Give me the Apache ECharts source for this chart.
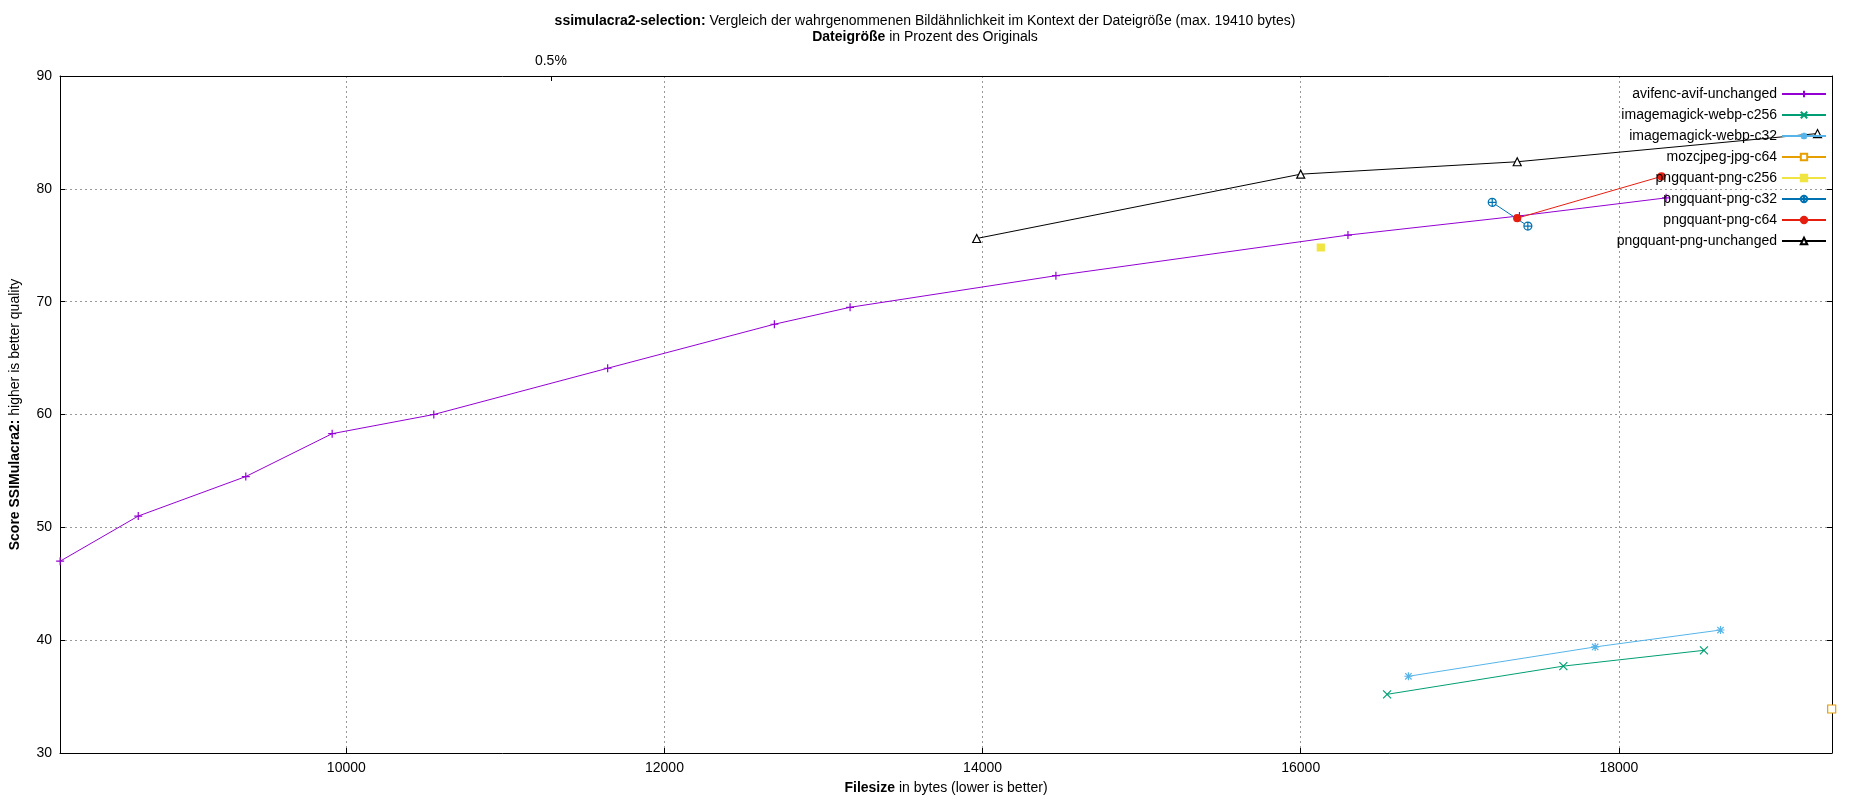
<!DOCTYPE html>
<html><head><meta charset="utf-8">
<script src="https://cdn.jsdelivr.net/npm/echarts@6/dist/echarts.min.js"></script>
<style>html,body{margin:0;background:#fff}#c{width:1850px;height:800px}</style>
</head><body><div id="c"></div>
<script>
const seriesNames = ['avifenc-avif-unchanged','imagemagick-webp-c256','imagemagick-webp-c32','mozcjpeg-jpg-c64','pngquant-png-c256','pngquant-png-c32','pngquant-png-c64','pngquant-png-unchanged'];
const avifenc = [[8201,47.0],[8692,51.0],[9368,54.5],[9911,58.3],[10550,60.0],[11643,64.1],[12691,68.0],[13167,69.5],[14461,72.3],[16297,75.9],[17375,77.6],[18297,79.2]];
const webp256 = [[16543,35.2],[17651,37.7],[18535,39.1]];
const webp32 = [[16677,36.8],[17851,39.4],[18639,40.9]];
const mozjpeg64 = [[19338,33.9]];
const png256 = [[16126,74.8]];
const png32 = [[17204,78.8],[17428,76.7]];
const png64 = [[17361,77.4],[18268,81.1]];
const pngUnchanged = [[13963,75.6],[16000,81.3],[17361,82.4],[19249,84.9]];
const xTicks = [10000,12000,14000,16000,18000];
const yTicks = [30,40,50,60,70,80,90];
const topTickBytes = [11286];
const topTickLabels = ['0.5%'];

const colors = ['#9400d3','#009e73','#56b4e9','#e69f00','#f0e442','#0072b2','#e51e10','#000000'];
const datas = [avifenc,webp256,webp32,mozjpeg64,png256,png32,png64,pngUnchanged];
const symbols = [
 'path://M5,0L5,10M0,5L10,5',
 'path://M0,0L10,10M10,0L0,10',
 'path://M5,0L5,10M0,5L10,5M1,1L9,9M9,1L1,9',
 'path://M0,0L10,0L10,10L0,10Z',
 'rect',
 'path://M5,0A5,5 0 1 1 4.99,0ZM5,0L5,10M0,5L10,5',
 'circle',
 'path://M5,0L10,10L0,10Z'
];
const filled = [false,false,false,false,true,false,true,false];
const font = 'Liberation Sans, Arial, sans-serif';
const series = seriesNames.map((n,i)=>({
  name:n, type:'line', data:datas[i], symbol:symbols[i], symbolSize:filled[i]?7:8,
  showAllSymbol:true, animation:false,
  lineStyle:{color:colors[i],width:1},
  itemStyle:{color:filled[i]?colors[i]:'#fff',borderColor:colors[i],borderWidth:1.2},
  emphasis:{disabled:true}
}));
series.push({type:'line',xAxisIndex:1,yAxisIndex:1,data:[],silent:true});
const chart = echarts.init(document.getElementById('c'));
chart.setOption({
  animation:false,
  color:colors,
  textStyle:{fontFamily:font},
  title:{left:'center',top:8,text:'{b|ssimulacra2-selection:} Vergleich der wahrgenommenen Bildähnlichkeit im Kontext der Dateigröße (max. 19410 bytes)\n{b|Dateigröße} in Prozent des Originals',
    textStyle:{fontWeight:'normal',fontSize:14,color:'#000',lineHeight:16,fontFamily:font,
      rich:{b:{fontWeight:'bold',fontSize:14,fontFamily:font}}}},
  legend:{right:18,top:82,orient:'vertical',align:'right',itemGap:7,itemWidth:44,itemHeight:8,
    textStyle:{fontSize:14,color:'#000',fontFamily:font},data:seriesNames},
  grid:{left:56,right:18,top:76,bottom:46},
  xAxis:[{type:'value',min:8200,max:19340,position:'bottom',
    name:'{b|Filesize} in bytes (lower is better)',nameLocation:'middle',nameGap:28,
    nameTextStyle:{fontSize:14,color:'#000',rich:{b:{fontWeight:'bold',fontSize:14}}},
    axisLine:{lineStyle:{color:'#000'}},
    axisTick:{inside:true,customValues:xTicks,lineStyle:{color:'#000'}},
    axisLabel:{customValues:xTicks,formatter:v=>String(v),color:'#000',fontSize:14},
    splitLine:{show:true,lineStyle:{color:'#999',type:[2,3]}}},
   {type:'value',min:8200,max:19340,position:'top',
    axisLine:{show:true,lineStyle:{color:'#000'}},
    axisTick:{inside:true,customValues:topTickBytes,lineStyle:{color:'#000'}},
    axisLabel:{customValues:topTickBytes,formatter:()=>topTickLabels[0],color:'#000',fontSize:14},
    splitLine:{show:false}}],
  yAxis:[{type:'value',min:30,max:90,interval:10,
    name:'{b|Score SSIMulacra2:} higher is better quality',nameLocation:'middle',nameGap:38,
    nameTextStyle:{fontSize:14,color:'#000',rich:{b:{fontWeight:'bold',fontSize:14}}},
    axisLine:{show:true,lineStyle:{color:'#000'}},
    axisTick:{inside:true,lineStyle:{color:'#000'}},
    axisLabel:{color:'#000',fontSize:14},
    splitLine:{show:true,lineStyle:{color:'#999',type:[2,3]}}},
   {type:'value',min:30,max:90,interval:10,position:'right',
    axisLine:{show:true,lineStyle:{color:'#000'}},
    axisTick:{inside:true,lineStyle:{color:'#000'}},
    axisLabel:{show:false},splitLine:{show:false}}],
  series:series
});
</script></body></html>
